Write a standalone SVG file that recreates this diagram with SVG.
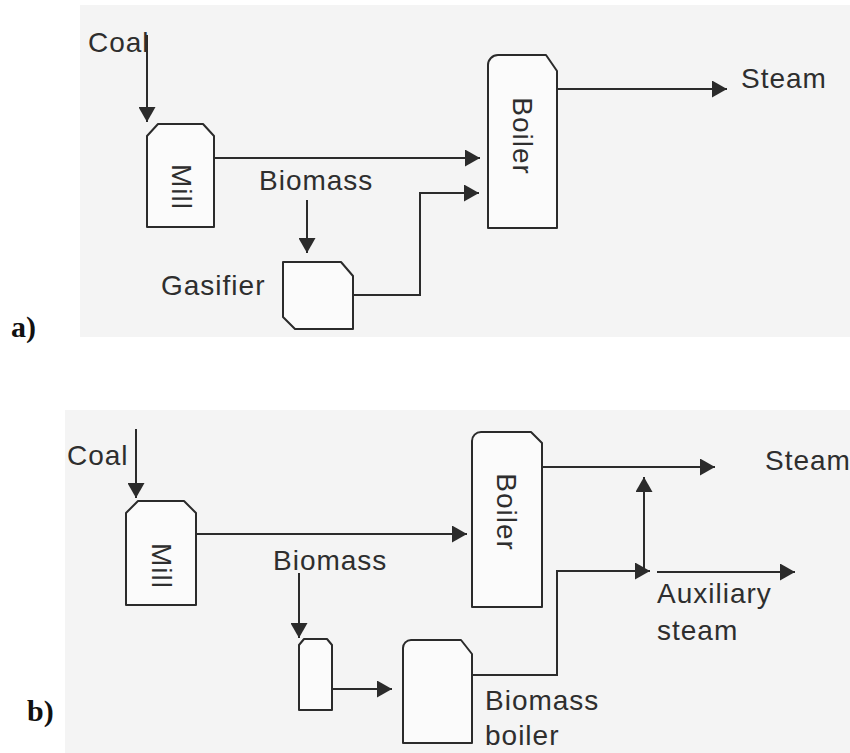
<svg xmlns="http://www.w3.org/2000/svg" width="850" height="753" viewBox="0 0 850 753">
<defs>
<style>
.lbl{font-family:"Liberation Sans",Arial,sans-serif;font-size:28px;fill:#2e2e2e;letter-spacing:1px}
.rot{font-family:"Liberation Sans",Arial,sans-serif;font-size:28px;fill:#2e2e2e;text-anchor:middle;letter-spacing:1px}
.tag{font-family:"Liberation Serif","Times New Roman",serif;font-size:30px;font-weight:bold;fill:#111}
.box{fill:#fbfbfb;stroke:#2b2b2b;stroke-width:2;stroke-linejoin:round}
.ln{fill:none;stroke:#2b2b2b;stroke-width:2;marker-end:url(#ah)}
</style>
<marker id="ah" markerUnits="userSpaceOnUse" viewBox="0 0 15 17" refX="15" refY="8.5" markerWidth="15" markerHeight="17" orient="auto">
<path d="M0,0 L15,8.5 L0,17 Z" fill="#2b2b2b"/>
</marker>
</defs>
<rect x="0" y="0" width="850" height="753" fill="#ffffff"/>
<rect x="80" y="5" width="770" height="332" fill="#f4f4f4"/>
<rect x="65" y="410" width="785" height="343" fill="#f4f4f4"/>

<text class="tag" x="11" y="337">a)</text>
<text class="tag" x="27" y="721">b)</text>

<!-- Panel a -->
<g id="a-coal"><text class="lbl" x="88" y="52">Coal</text></g>
<g id="a-mill">
<path class="box" d="M147,227 V136 L158,124 H203 L214,136 V227 Z"/>
<text class="rot" transform="translate(172,187) rotate(90)">Mill</text>
</g>
<g id="a-biomass"><text class="lbl" x="259" y="190">Biomass</text></g>
<g id="a-gasifier">
<path class="box" d="M283,262 H341 L353,276 V329 H295 L283,317 Z"/>
<text class="lbl" x="161" y="295">Gasifier</text>
</g>
<g id="a-boiler">
<path class="box" d="M488,228 V65 A10,10 0 0 1 498,55 H546 L557,71 V228 Z"/>
<text class="rot" transform="translate(513,136) rotate(90)">Boiler</text>
</g>
<g id="a-steam"><text class="lbl" x="741" y="88">Steam</text></g>

<!-- Panel b -->
<g id="b-coal"><text class="lbl" x="67" y="465">Coal</text></g>
<g id="b-mill">
<path class="box" d="M126,605 V513 L138,501 H184 L196,513 V605 Z"/>
<text class="rot" transform="translate(152,566) rotate(90)">Mill</text>
</g>
<g id="b-biomass"><text class="lbl" x="273" y="570">Biomass</text></g>
<g id="b-prep">
<path class="box" d="M299,710 V645 L304,639 H327 L332,645 V710 Z"/>
</g>
<g id="b-biomass-boiler">
<path class="box" d="M403,743 V648 A8,8 0 0 1 411,640 H461 L472,654 V743 Z"/>
<text class="lbl" x="485" y="710">Biomass</text>
<text class="lbl" x="485" y="745">boiler</text>
</g>
<g id="b-boiler">
<path class="box" d="M472,607 V441 A9,9 0 0 1 481,432 H531 L542,443 V607 Z"/>
<text class="rot" transform="translate(497,512) rotate(90)">Boiler</text>
</g>
<g id="b-steam"><text class="lbl" x="765" y="470">Steam</text></g>
<g id="b-aux">
<text class="lbl" x="657" y="603">Auxiliary</text>
<text class="lbl" x="657" y="640">steam</text>
</g>

<g id="connectors">
<path class="ln" d="M147,35 V122"/>
<path class="ln" d="M215,158 H480"/>
<path class="ln" d="M307,200 V253"/>
<path class="ln" d="M353,295 H420 V193 H479"/>
<path class="ln" d="M557,89 H727"/>

<path class="ln" d="M136,429 V498"/>
<path class="ln" d="M196,534 H467"/>
<path class="ln" d="M299,573 V638"/>
<path class="ln" d="M332,689 H392"/>
<path class="ln" d="M472,675 H557 V571 H650"/>
<path class="ln" d="M644,571 V477"/>
<path class="ln" d="M657,572 H795"/>
<path class="ln" d="M542,467 H715"/>
</g>
</svg>
